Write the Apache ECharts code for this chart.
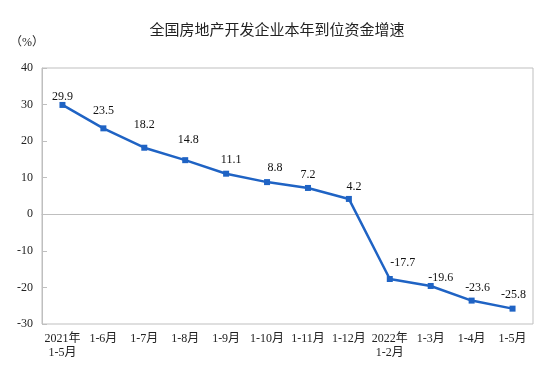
<!DOCTYPE html>
<html><head><meta charset="utf-8">
<script src="https://cdn.jsdelivr.net/npm/echarts@6/dist/echarts.min.js"></script>
<style>html,body{margin:0;padding:0;background:#fff}#c{width:554px;height:384px}</style>
</head><body><div id="c"></div>
<script>
const categories = ["2021年\n1-5月","1-6月","1-7月","1-8月","1-9月","1-10月","1-11月","1-12月","2022年\n1-2月","1-3月","1-4月","1-5月"];
const growth = [29.9, 23.5, 18.2, 14.8, 11.1, 8.8, 7.2, 4.2, -17.7, -19.6, -23.6, -25.8];
const yTicks = {min: -30, max: 40, interval: 10};
const titleText = "全国房地产开发企业本年到位资金增速";
const unitText = "（%）";
// label nudges (style only), as seen in the reference
const labelNudge = [[0,6],[0,-3],[0,-9],[3,-6],[5,0],[8,0],[0,1],[5,2],[13,-2],[10,6],[6,1],[1,0]];

const serif = '"Liberation Serif","Times New Roman","Noto Sans CJK SC",serif';
const chart = echarts.init(document.getElementById('c'));
const seriesData = growth.map((v, i) => ({value: v, label: {offset: labelNudge[i]}}));
chart.setOption({
  backgroundColor: '#fff',
  animation: false,
  title: {
    text: titleText, left: 'center', top: 17,
    textStyle: {fontFamily: '"Noto Sans CJK SC",sans-serif', fontSize: 15, fontWeight: 'normal', color: '#222'}
  },
  graphic: [{
    type: 'text', left: 10, top: 37,
    style: {text: unitText, font: '12px ' + serif, fill: '#222'}
  }],
  grid: {left: 42, right: 21, top: 68, bottom: 60, show: true, borderColor: '#bfbfbf', borderWidth: 1},
  xAxis: {
    type: 'category', data: categories, boundaryGap: true,
    axisLine: {lineStyle: {color: '#bfbfbf'}},
    axisTick: {inside: true, length: 5, lineStyle: {color: '#bfbfbf'}},
    axisLabel: {fontFamily: serif, fontSize: 12, color: '#222', margin: 8, lineHeight: 14, interval: 0}
  },
  yAxis: {
    type: 'value', min: yTicks.min, max: yTicks.max, interval: yTicks.interval,
    splitLine: {show: false},
    axisLine: {show: true, lineStyle: {color: '#bfbfbf'}},
    axisTick: {show: true, inside: true, length: 5, lineStyle: {color: '#bfbfbf'}},
    axisLabel: {fontFamily: serif, fontSize: 12, color: '#222', margin: 9}
  },
  series: [{
    type: 'line', data: seriesData,
    symbol: 'rect', symbolSize: 6,
    lineStyle: {color: '#1f63c4', width: 2.5},
    itemStyle: {color: '#1f63c4'},
    label: {show: true, position: 'top', distance: 5, fontFamily: serif, fontSize: 12, color: '#111'}
  }]
});
</script></body></html>
